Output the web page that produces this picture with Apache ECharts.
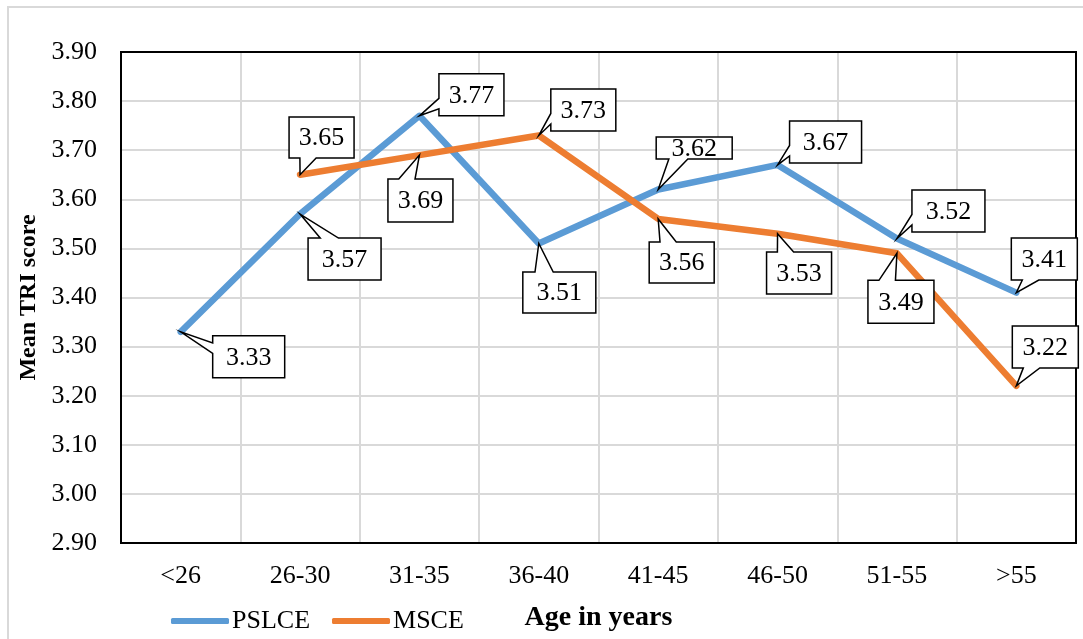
<!DOCTYPE html>
<html>
<head>
<meta charset="utf-8">
<script src="https://cdn.jsdelivr.net/npm/echarts@6/dist/echarts.min.js"></script>
<style>
html,body{margin:0;padding:0;background:#fff;}
#chart{width:1083px;height:639px;}
</style>
</head>
<body>
<div id="chart"></div>
<script>
// ---- data ----
const categories = ['<26', '26-30', '31-35', '36-40', '41-45', '46-50', '51-55', '>55'];
const pslce = [3.33, 3.57, 3.77, 3.51, 3.62, 3.67, 3.52, 3.41];
const msce  = [null, 3.65, 3.69, 3.73, 3.56, 3.53, 3.49, 3.22];
const yTicks = ['2.90','3.00','3.10','3.20','3.30','3.40','3.50','3.60','3.70','3.80','3.90'];

// ---- callout layout (box centre offset from point, box size), px ----
const pslceOffsets = [[68,25],[44.5,45],[52,-21],[20.5,49],[36,-41.5],[48,-23],[51.5,-27.6],[28,-33.6]];
const pslceSizes   = [[72,42],[73,42],[65,42],[73,41],[76,22],[72,42],[73,42],[66,42]];
const msceOffsets  = [null,[21.5,-37.3],[1,45.5],[44.5,-25.5],[23.5,43.5],[21.5,39.3],[4,48.5],[29,-39]];
const msceSizes    = [null,[65,41],[65,43],[65,42],[65,41],[65,42],[66,43],[66,42]];

const FONT = "'Liberation Serif', 'Times New Roman', serif";
const BLUE = '#5B9BD5', ORANGE = '#ED7D31';

function calloutRenderer(offsets, sizes) {
  return function (params, api) {
    const i = api.value(0), v = api.value(1);
    const p = api.coord([i, v]);
    const off = offsets[i], sz = sizes[i];
    const w = sz[0], h = sz[1];
    const cx = p[0] + off[0], cy = p[1] + off[1];
    const x0 = cx - w / 2, y0 = cy - h / 2, x1 = x0 + w, y1 = y0 + h;
    const tx = p[0] - cx, ty = p[1] - cy;
    let pts;
    if (Math.abs(ty) > Math.abs(tx * h / w)) {
      const xa = x0 + w * (tx > 0 ? 7 : 2) / 12, xb = x0 + w * (tx > 0 ? 10 : 5) / 12;
      if (ty < 0) pts = [[x0,y0],[xa,y0],p,[xb,y0],[x1,y0],[x1,y1],[x0,y1]];
      else pts = [[x0,y0],[x1,y0],[x1,y1],[xb,y1],p,[xa,y1],[x0,y1]];
    } else {
      const ya = y0 + h * (ty > 0 ? 7 : 2) / 12, yb = y0 + h * (ty > 0 ? 10 : 5) / 12;
      if (tx < 0) pts = [[x0,y0],[x1,y0],[x1,y1],[x0,y1],[x0,yb],p,[x0,ya]];
      else pts = [[x0,y0],[x1,y0],[x1,ya],p,[x1,yb],[x1,y1],[x0,y1]];
    }
    return {
      type: 'group',
      children: [
        { type: 'polygon', shape: { points: pts }, style: { fill: '#fff', stroke: '#000', lineWidth: 1.5 } },
        { type: 'text', x: cx, y: cy + 1, style: { text: v.toFixed(2), font: '26px ' + FONT, fill: '#000', align: 'center', verticalAlign: 'middle' } }
      ]
    };
  };
}

function toPoints(arr) {
  const out = [];
  arr.forEach((v, i) => { if (v != null) out.push([i, v]); });
  return out;
}

const chart = echarts.init(document.getElementById('chart'), null, { renderer: 'canvas' });
chart.setOption({
  backgroundColor: '#fff',
  animation: false,
  graphic: [{
    type: 'rect', shape: { x: 8, y: 7, width: 1200, height: 800 },
    style: { fill: 'none', stroke: '#D9D9D9', lineWidth: 2 }, silent: true, z: -10
  }],
  grid: { left: 121, right: 7, top: 52, bottom: 96, show: true, borderColor: '#000', borderWidth: 2, backgroundColor: 'transparent', z: 3 },
  legend: {
    data: ['PSLCE', 'MSCE'],
    left: 166, top: 603,
    itemWidth: 58, itemHeight: 6, itemGap: 22,
    icon: 'roundRect',
    textStyle: { fontFamily: FONT, fontSize: 26, color: '#000', padding: [0, 0, 0, -2] }
  },
  xAxis: {
    type: 'category',
    data: categories,
    boundaryGap: true,
    name: 'Age in years',
    nameLocation: 'middle',
    nameGap: 61,
    nameTextStyle: { fontFamily: FONT, fontSize: 28, fontWeight: 'bold', color: '#000' },
    axisLine: { show: false },
    axisTick: { show: false },
    axisLabel: { fontFamily: FONT, fontSize: 26, color: '#000', margin: 20 },
    splitLine: { show: true, interval: 0, lineStyle: { color: '#D9D9D9', width: 2 } }
  },
  yAxis: {
    type: 'value',
    min: 2.9, max: 3.9, interval: 0.1,
    name: 'Mean TRI score',
    nameLocation: 'middle',
    nameGap: 79,
    nameTextStyle: { fontFamily: FONT, fontSize: 24, fontWeight: 'bold', color: '#000' },
    axisLine: { show: false },
    axisTick: { show: false },
    axisLabel: {
      fontFamily: FONT, fontSize: 26, color: '#000', margin: 24,
      formatter: function (val) {
        const idx = Math.round((val - 2.9) / 0.1);
        return yTicks[idx] != null ? yTicks[idx] : val.toFixed(2);
      }
    },
    splitLine: { show: true, lineStyle: { color: '#D9D9D9', width: 2 } }
  },
  series: [
    {
      name: 'PSLCE', type: 'line', data: pslce, showSymbol: false, symbol: 'none',
      color: BLUE, lineStyle: { color: BLUE, width: 6.5, cap: 'round', join: 'round' }, z: 4
    },
    {
      name: 'MSCE', type: 'line', data: msce, showSymbol: false, symbol: 'none',
      color: ORANGE, lineStyle: { color: ORANGE, width: 6.5, cap: 'round', join: 'round' }, z: 4
    },
    {
      type: 'custom', data: toPoints(pslce), renderItem: calloutRenderer(pslceOffsets, pslceSizes),
      z: 10, silent: true, clip: false
    },
    {
      type: 'custom', data: toPoints(msce), renderItem: calloutRenderer(msceOffsets, msceSizes),
      z: 10, silent: true, clip: false
    }
  ]
});
</script>
</body>
</html>
